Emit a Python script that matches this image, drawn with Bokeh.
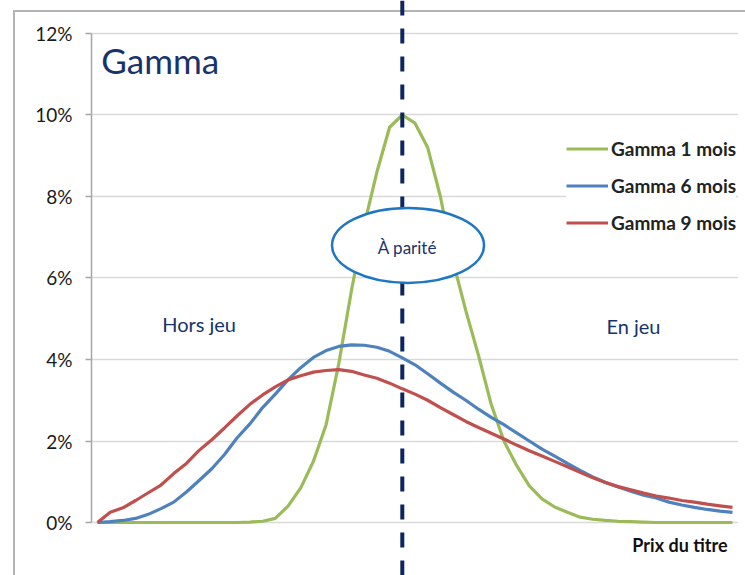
from bokeh.plotting import figure
from bokeh.models import (ColumnDataSource, Legend, LegendItem, Span, FixedTicker,
                          CustomJSTickFormatter, Label, Range1d)
from bokeh.core.properties import value
from bokeh.embed import file_html
from bokeh.resources import INLINE

# ---------------- data ----------------
prix = list(range(51))          # stock price steps
strike = 24                     # at-the-money position

gamma_1m = [0, 0, 0, 0, 0, 0, 0, 0, 0, 0, 0, 0,
            0.01, 0.03, 0.1, 0.4, 0.85, 1.5, 2.4, 3.9, 5.7, 7.3, 8.6, 9.7, 10.0,
            9.8, 9.2, 8.0, 6.4, 5.2, 4.1, 2.9, 2.0, 1.4, 0.9, 0.58, 0.38, 0.25,
            0.13, 0.08, 0.05, 0.03, 0.02, 0.01,
            0, 0, 0, 0, 0, 0, 0]
gamma_6m = [0, 0.02, 0.05, 0.1, 0.2, 0.34, 0.5, 0.75, 1.03, 1.32, 1.67, 2.08,
            2.42, 2.82, 3.15, 3.5, 3.8, 4.05, 4.22, 4.32, 4.36, 4.35, 4.3, 4.2,
            4.04, 3.87, 3.65, 3.42, 3.2, 3.0, 2.78, 2.58, 2.4, 2.2, 2.0, 1.8,
            1.63, 1.45, 1.28, 1.12, 0.98, 0.87, 0.77, 0.67, 0.6, 0.5, 0.43,
            0.37, 0.32, 0.28, 0.25]
gamma_9m = [0, 0.25, 0.36, 0.54, 0.73, 0.92, 1.2, 1.45, 1.77, 2.03, 2.32, 2.62,
            2.9, 3.13, 3.33, 3.5, 3.6, 3.69, 3.73, 3.75, 3.71, 3.62, 3.54, 3.42,
            3.28, 3.15, 3.0, 2.82, 2.65, 2.48, 2.33, 2.19, 2.05, 1.9, 1.76, 1.63,
            1.5, 1.37, 1.23, 1.1, 0.98, 0.88, 0.8, 0.72, 0.65, 0.6, 0.54, 0.5,
            0.45, 0.41, 0.37]

series_names = ["Gamma 1 mois", "Gamma 6 mois", "Gamma 9 mois"]
series_colors = ["#9bbb59", "#4f81bd", "#c0504d"]
y_ticks = [0, 2, 4, 6, 8, 10, 12]

# ---------------- figure ----------------
p = figure(width=745, height=575, output_backend="svg", toolbar_location=None,
           x_range=Range1d(-0.4724, 50.472), y_range=Range1d(-1.3006, 12.8098),
           min_border_left=91, min_border_right=7, min_border_top=0, min_border_bottom=0)
# outer chart-area frame (left and top edges)
p.styles = {"box-shadow": "inset 13px 10px 0 0 #ffffff, inset 15px 12px 0 0 #b4b4b4"}
p.outline_line_color = None
p.background_fill_color = None
p.border_fill_color = None

p.xaxis.visible = False
p.xgrid.visible = False
p.ygrid.grid_line_color = "#d9d9d9"
p.ygrid.grid_line_width = 1.3
p.yaxis.ticker = FixedTicker(ticks=y_ticks)
p.yaxis.bounds = (0, 12)
p.yaxis.formatter = CustomJSTickFormatter(code="return tick.toFixed(0) + '%';")
p.yaxis.axis_line_color = "#a6a6a6"
p.yaxis.axis_line_width = 1.5
p.yaxis.major_tick_line_color = "#a6a6a6"
p.yaxis.major_tick_line_width = 1.5
p.yaxis.major_tick_out = 6
p.yaxis.major_tick_in = 0
p.yaxis.minor_tick_line_color = None
p.yaxis.major_label_standoff = 13
p.yaxis.major_label_text_font = "Lato"
p.yaxis.major_label_text_font_size = "19px"
p.yaxis.major_label_text_color = "#1a1a1a"

# dashed at-the-money line
p.add_layout(Span(location=strike, dimension="height", line_color="#0d2660",
                  line_width=4, line_dash="15 13"))

src = ColumnDataSource(dict(x=prix, g1=gamma_1m, g6=gamma_6m, g9=gamma_9m))
renderers = []
for col, name, color in zip(["g1", "g6", "g9"], series_names, series_colors):
    r = p.line("x", col, source=src, line_color=color, line_width=3.2)
    renderers.append(r)

legend = Legend(items=[LegendItem(label=n, renderers=[r]) for n, r in zip(series_names, renderers)],
                location=(475, 341), glyph_width=42, glyph_height=23, label_height=23,
                spacing=14, padding=10, margin=0, label_standoff=3,
                label_text_font="Lato", label_text_font_size="19px",
                label_text_font_style="bold", label_text_color="#222222",
                border_line_color=None, background_fill_color="white",
                background_fill_alpha=1.0)
p.add_layout(legend, "center")

# ellipse with label
e = p.ellipse(x=[strike + 0.45], y=[6.8], width=152, height=75, width_units="screen",
              height_units="screen", fill_color="white", line_color="#1f77c4", line_width=2.5)
e.level = "overlay"
t = p.text(x=[strike + 0.4], y=[6.76], text=["À parité"], text_font=value("Lato"),
           text_font_size="17px", text_color="#17336b", text_align="center",
           text_baseline="middle")
t.level = "overlay"

p.add_layout(Label(x=0.3, y=11.35, text="Gamma", text_font="Lato", text_font_size="35px",
                   text_color="#17336b", text_baseline="middle"))
p.add_layout(Label(x=8.0, y=4.88, text="Hors jeu", text_font="Lato", text_font_size="20px",
                   text_color="#17336b", text_align="center", text_baseline="middle"))
p.add_layout(Label(x=42.2, y=4.81, text="En jeu", text_font="Lato", text_font_size="20px",
                   text_color="#17336b", text_align="center", text_baseline="middle"))
p.add_layout(Label(x=50, y=-0.54, x_offset=-5, text="Prix du titre", text_font="Lato",
                   text_font_size="18px", text_font_style="bold", text_color="#111111",
                   text_align="right", text_baseline="middle"))

open("out.html", "w").write(file_html(p, INLINE))
